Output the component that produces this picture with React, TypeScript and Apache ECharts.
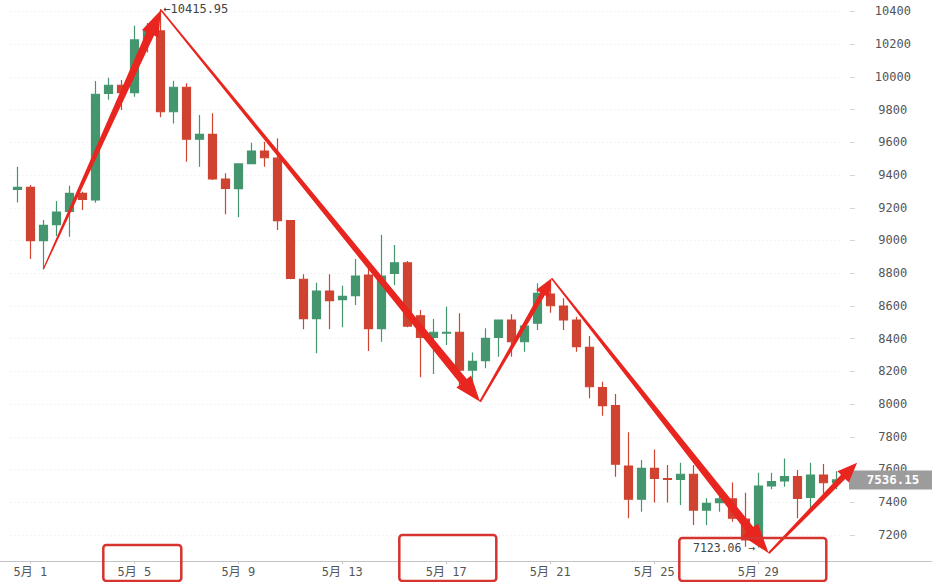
import React, { useEffect, useRef } from "react";
import * as echarts from "echarts";

// 12-hour candles, 30 Apr 12:00 to 1 Jun 00:00
const categories = [
  "4/30 12:00",
  "5/1 00:00", "5/1 12:00", "5/2 00:00", "5/2 12:00", "5/3 00:00", "5/3 12:00", "5/4 00:00", "5/4 12:00",
  "5/5 00:00", "5/5 12:00", "5/6 00:00", "5/6 12:00", "5/7 00:00", "5/7 12:00", "5/8 00:00", "5/8 12:00",
  "5/9 00:00", "5/9 12:00", "5/10 00:00", "5/10 12:00", "5/11 00:00", "5/11 12:00", "5/12 00:00", "5/12 12:00",
  "5/13 00:00", "5/13 12:00", "5/14 00:00", "5/14 12:00", "5/15 00:00", "5/15 12:00", "5/16 00:00", "5/16 12:00",
  "5/17 00:00", "5/17 12:00", "5/18 00:00", "5/18 12:00", "5/19 00:00", "5/19 12:00", "5/20 00:00", "5/20 12:00",
  "5/21 00:00", "5/21 12:00", "5/22 00:00", "5/22 12:00", "5/23 00:00", "5/23 12:00", "5/24 00:00", "5/24 12:00",
  "5/25 00:00", "5/25 12:00", "5/26 00:00", "5/26 12:00", "5/27 00:00", "5/27 12:00", "5/28 00:00", "5/28 12:00",
  "5/29 00:00", "5/29 12:00", "5/30 00:00", "5/30 12:00", "5/31 00:00", "5/31 12:00", "6/1 00:00",
];

const opens = [
  9313, 9325, 8999, 9097, 9178, 9288, 9248, 9900, 9949, 9904, 10226, 10281, 9787, 9937, 9619, 9649,
  9376, 9317, 9470, 9547, 9503, 9121, 8763, 8522, 8691, 8639, 8663, 8789, 8461, 8799, 8864, 8540,
  8408, 8434, 8439, 8208, 8265, 8408, 8514, 8381, 8494, 8673, 8599, 8514, 8347, 8100, 7990, 7621,
  7418, 7607, 7544, 7540, 7571, 7352, 7397, 7420, 7296, 7169, 7499, 7530, 7556, 7430, 7566, 7519,
];
const closes = [
  9325, 8999, 9093, 9174, 9288, 9252, 9894, 9949, 9904, 10226, 10281, 9787, 9937, 9619, 9649, 9376,
  9319, 9468, 9547, 9506, 9121, 8769, 8522, 8691, 8632, 8659, 8783, 8461, 8783, 8864, 8477, 8408,
  8439, 8439, 8208, 8261, 8402, 8514, 8381, 8477, 8677, 8601, 8514, 8351, 8106, 7990, 7632, 7418,
  7607, 7546, 7540, 7571, 7352, 7393, 7420, 7302, 7169, 7499, 7526, 7556, 7424, 7566, 7519, 7536.15,
];
const lows = [
  9233, 8887, 8824, 9028, 9023, 9186, 9231, 9860, 9798, 9879, 10150, 9753, 9716, 9482, 9451, 9370,
  9160, 9142, 9466, 9451, 9064, 8763, 8457, 8310, 8457, 8469, 8606, 8325, 8381, 8728, 8470, 8164,
  8184, 8361, 8106, 8106, 8219, 8290, 8290, 8320, 8453, 8558, 8453, 8320, 8035, 7929, 7556, 7302,
  7342, 7399, 7399, 7383, 7261, 7261, 7342, 7281, 7128, 7123.06, 7479, 7495, 7302, 7352, 7454, 7480,
];
const highs = [
  9451, 9339, 9125, 9241, 9335, 9298, 9975, 9995, 9981, 10313, 10330, 10415.95, 9977, 9961, 9767, 9778,
  9411, 9470, 9598, 9604, 9625, 9125, 8793, 8742, 8793, 8724, 8887, 8850, 9034, 8972, 8875, 8575,
  8520, 8595, 8555, 8316, 8463, 8514, 8549, 8480, 8738, 8740, 8647, 8534, 8416, 8137, 8062, 7827,
  7658, 7723, 7627, 7642, 7627, 7424, 7455, 7520, 7458, 7580, 7580, 7668, 7597, 7642, 7634, 7590,
];

const highMark = { index: 11, value: 10415.95, text: "←10415.95" };
const lowMark = { index: 57, value: 7123.06, text: "7123.06 →" };
const lastPrice = 7536.15;

// hand-drawn trend arrows: vertices as [candle index, price]
const trendPoints = [
  [2.0, 8824], [11.05, 10409], [35.6, 8014], [41.1, 8769], [57.8, 7088], [64.6, 7642],
];

// highlight boxes around date labels (candle index of the label)
const boxLabels = [9, 33, 57];

const GREEN = "#44966f";
const RED = "#cf4330";
const ARROW = "#e8261f";
const MONO = "'DejaVu Sans Mono', 'Noto Sans CJK SC', monospace";

function fmtDate(v: string) {
  const [md] = v.split(" ");
  const [m, d] = md.split("/");
  return `${m}月 ${d}`;
}

export default function App() {
  const ref = useRef<HTMLDivElement>(null);
  useEffect(() => {
    document.body.style.margin = "0";
    const chart = echarts.init(ref.current!, null, { renderer: "svg" });
    const data = categories.map((_, i) => [opens[i], closes[i], lows[i], highs[i]]);
    const showTick = (i: number) => (i - 1) % 8 === 0 && i >= 1;
    chart.setOption({
      animation: false,
      backgroundColor: "#ffffff",
      grid: { left: 10.8, right: 89.2, top: 0, bottom: 21, containLabel: false, outerBoundsMode: "none" },
      xAxis: {
        type: "category",
        data: categories,
        boundaryGap: true,
        axisLine: { show: false },
        axisTick: { show: true, interval: showTick, alignWithLabel: true, length: 3, lineStyle: { color: "#cccccc" } },
        axisLabel: {
          interval: showTick,
          formatter: (v: string) => fmtDate(v),
          color: "#555555",
          fontSize: 12,
          fontFamily: MONO,
          margin: 5,
        },
        splitLine: { show: false },
      },
      yAxis: {
        type: "value",
        position: "right",
        min: 7040.6,
        max: 10470.3,
        splitNumber: 17,
        minInterval: 200,
        maxInterval: 200,
        offset: 7,
        scale: true,
        axisLine: { show: false },
        axisTick: { show: true, length: 5, lineStyle: { color: "#d4d4d4" } },
        axisLabel: {
          showMinLabel: false,
          showMaxLabel: false,
          align: "center",
          margin: 43,
          color: "#555555",
          fontSize: 12,
          fontFamily: MONO,
          formatter: (v: number) => String(Math.round(v)),
        },
        splitLine: { show: true, showMinLine: false, showMaxLine: false, lineStyle: { color: "#ececec", type: [1, 3] } },
      },
      series: [
        {
          type: "candlestick",
          data,
          barWidth: 9,
          itemStyle: { color: GREEN, color0: RED, borderColor: GREEN, borderColor0: RED, borderWidth: 1.2 },
        },
      ],
    });

    const px = (idx: number, v: number) => {
      const a = chart.convertToPixel({ xAxisIndex: 0, yAxisIndex: 0 }, [0, v]) as number[];
      const b = chart.convertToPixel({ xAxisIndex: 0, yAxisIndex: 0 }, [1, v]) as number[];
      return [a[0] + (b[0] - a[0]) * idx, a[1]];
    };

    const arrowPoly = (t: number[], h: number[], wt: number, wb: number, hl: number, hw: number) => {
      const dx = h[0] - t[0], dy = h[1] - t[1];
      const len = Math.hypot(dx, dy);
      const ux = dx / len, uy = dy / len;
      const nx = -uy, ny = ux;
      const bx = h[0] - ux * hl, by = h[1] - uy * hl;
      return [
        [t[0] + nx * wt, t[1] + ny * wt],
        [bx + nx * wb, by + ny * wb],
        [bx + nx * hw, by + ny * hw],
        [h[0], h[1]],
        [bx - nx * hw, by - ny * hw],
        [bx - nx * wb, by - ny * wb],
        [t[0] - nx * wt, t[1] - ny * wt],
      ];
    };

    const pts = trendPoints.map(([i, v]) => px(i, v));
    const arrowSpecs = [
      [0.6, 4.2, 26, 9],
      [0.8, 4, 26, 9.5],
      [1, 2.6, 18, 7.5],
      [0.8, 4.2, 30, 10],
      [1, 3, 20, 8],
    ];
    const arrows = arrowSpecs.map((s, k) => ({
      type: "polygon",
      z: 100,
      shape: { points: arrowPoly(pts[k], pts[k + 1], s[0], s[1], s[2], s[3]) },
      style: { fill: ARROW },
    }));

    const gridBottom = px(0, 7040.6)[1];
    const boxDefs = [
      { dx: -31, w: 78, top: 545 },
      { dx: -47, w: 97, top: 535 },
      { dx: -79, w: 147, top: 538 },
    ];
    const boxes = boxLabels.map((idx, k) => {
      const cx = px(idx, 8000)[0];
      const d = boxDefs[k];
      return {
        type: "rect",
        z: 100,
        shape: { x: cx + d.dx, y: d.top, width: d.w, height: 581 - d.top, r: 3 },
        style: { fill: "none", stroke: "#d5352e", lineWidth: 2.5 },
      };
    });

    const hp = px(highMark.index, highMark.value);
    const lp = px(lowMark.index, lowMark.value);
    const cp = px(0, lastPrice);

    chart.setOption({
      graphic: [
        {
          type: "line",
          z: 50,
          shape: { x1: 0, y1: gridBottom + 0.5, x2: 932, y2: gridBottom + 0.5 },
          style: { stroke: "#c4c4c4", lineWidth: 1 },
        },
        {
          type: "text",
          z: 60,
          x: hp[0] + 3,
          y: hp[1],
          style: { text: highMark.text, fill: "#444444", fontSize: 12, fontFamily: MONO, align: "left", verticalAlign: "middle" },
        },
        {
          type: "text",
          z: 60,
          x: lp[0] - 3,
          y: lp[1],
          style: { text: lowMark.text, fill: "#444444", fontSize: 11.5, fontFamily: MONO, align: "right", verticalAlign: "middle" },
        },
        {
          type: "rect",
          z: 60,
          shape: { x: 849, y: cp[1] - 9.5, width: 83, height: 19 },
          style: { fill: "#9c9c9c" },
        },
        {
          type: "text",
          z: 61,
          x: 893,
          y: cp[1],
          style: { text: lastPrice.toFixed(2), fill: "#ffffff", fontSize: 12.5, fontWeight: "bold", fontFamily: MONO, align: "center", verticalAlign: "middle" },
        },
        ...arrows,
        ...boxes,
      ],
    });

    return () => chart.dispose();
  }, []);
  return <div ref={ref} style={{ width: 932, height: 582 }} />;
}
